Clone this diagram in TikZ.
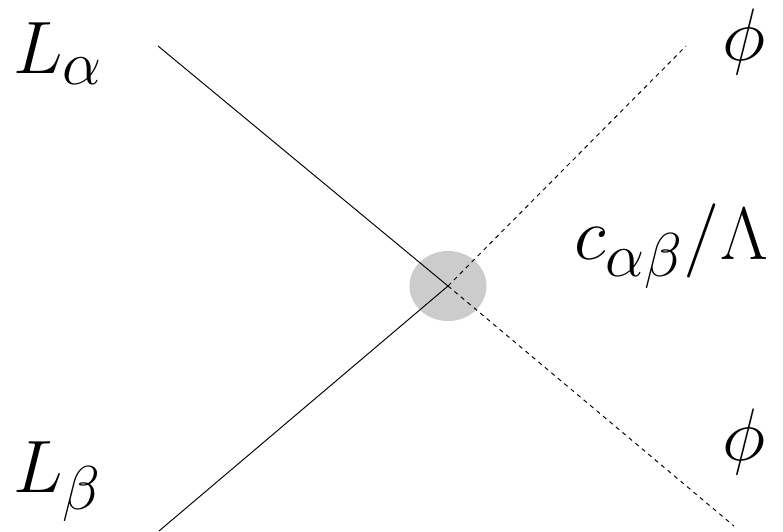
\documentclass[tikz,border=0pt]{standalone}
\usepackage{amsmath}
\usepackage{graphicx}
\usepackage{tikz}
\usetikzlibrary{shapes.geometric}

\newcommand{\biglabel}[1]{\scalebox{1.7}{\Huge$#1$}}

\begin{document}
\begin{tikzpicture}[
    x=0.02cm, y=-0.02cm,
    fermion/.style={line width=0.55pt, black},
    scalar/.style={line width=0.55pt, black, dash pattern=on 2.4pt off 2.4pt},
    blob/.style={ellipse, fill=black!20, draw=none, minimum width=77*0.02cm,
                 minimum height=70*0.02cm, inner sep=0pt},
    leglabel/.style={anchor=base west, inner sep=0pt}
]
\useasboundingbox (0,0) rectangle (783,531);
% effective vertex
\node[blob] (vertex) at (448,286) {};
% free ends of the legs
\coordinate (la) at (158,46);
\coordinate (lb) at (159,531);
\coordinate (phia) at (686,46);
\coordinate (phib) at (734,526);
\draw[fermion] (la) -- (vertex.center);
\draw[fermion] (lb) -- (vertex.center);
\draw[scalar] (vertex.center) -- (phia);
\draw[scalar] (vertex.center) -- (phib);
% labels
\node[leglabel] (lalpha) at (13,73) {\biglabel{L_\alpha}};
\node[leglabel] (lbeta) at (13,492) {\biglabel{L_\beta}};
\node[leglabel] (coupling) at (574,259) {\biglabel{c_{\alpha\beta}/\Lambda}};
\node[leglabel] (phitop) at (722,60) {\biglabel{\phi}};
\node[leglabel] (phibot) at (722,460) {\biglabel{\phi}};
\end{tikzpicture}
\end{document}
